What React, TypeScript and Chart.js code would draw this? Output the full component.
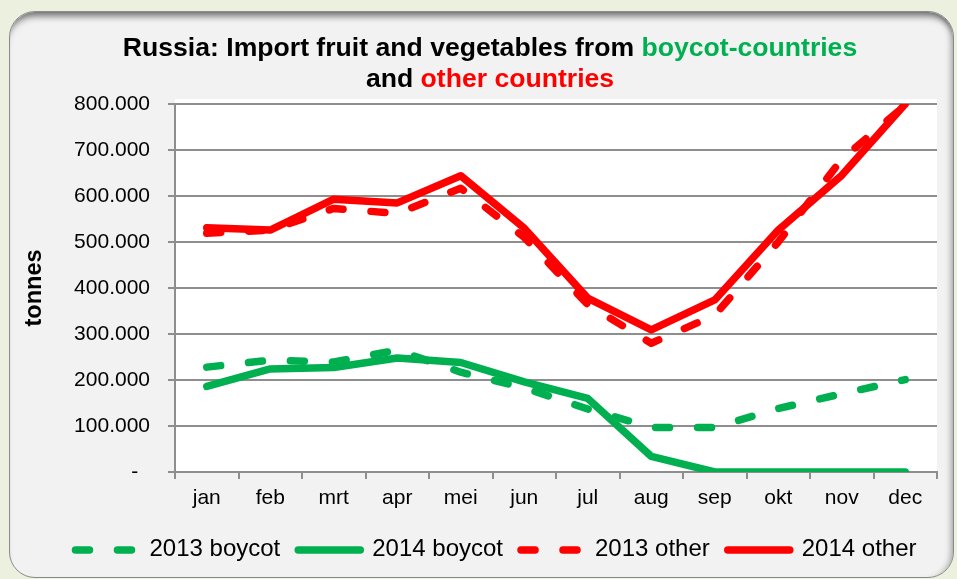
import React, { useEffect, useRef } from 'react';
import { Chart, registerables } from 'chart.js';

Chart.register(...registerables);

// ---- data ----
const months = ['jan', 'feb', 'mrt', 'apr', 'mei', 'jun', 'jul', 'aug', 'sep', 'okt', 'nov', 'dec'];
const boycot2013 = [228000, 243000, 239000, 265000, 217000, 183000, 137000, 97000, 97000, 138000, 170000, 201000];
const boycot2014 = [186000, 224000, 227000, 248000, 238000, 196000, 160000, 34000, 0, 0, 0, 0];
const other2013 = [519000, 526000, 573000, 562000, 617000, 510000, 364000, 280000, 341000, 500000, 680000, 797000];
const other2014 = [531000, 526000, 593000, 585000, 644000, 530000, 378000, 309000, 374000, 526000, 645000, 800000];
const seriesLabels = ['2013 boycot', '2014 boycot', '2013 other', '2014 other'];
const yMin = 0;
const yMax = 800000;
const yStep = 100000;
const yAxisTitle = 'tonnes';
const titleLine1 = ['Russia: Import fruit and vegetables from ', 'boycot-countries'];
const titleLine2 = ['and ', 'other countries'];

// ---- styles ----
const GREEN = '#00B050';
const RED = '#FF0000';
const GRAY = '#8E8E8E';
const FONT = '"Liberation Sans", Arial, sans-serif';
const DASH = [14, 28];
const LINE_W = 7.5;

function fmt(v: number): string {
  if (v === 0) return '-  ';
  return String(v).replace(/\B(?=(\d{3})+(?!\d))/g, '.');
}

const plotBgPlugin = {
  id: 'plotBg',
  beforeDraw(chart: any) {
    const { ctx, chartArea: a } = chart;
    ctx.save();
    ctx.fillStyle = '#FFFFFF';
    ctx.fillRect(a.left, a.top - 5, a.right - a.left, a.bottom - a.top + 5);
    ctx.restore();
  },
};

const titlePlugin = {
  id: 'multiTitle',
  afterDraw(chart: any) {
    const { ctx } = chart;
    const cx = 490;
    const lines = [
      { parts: [{ t: titleLine1[0], c: '#000000' }, { t: titleLine1[1], c: GREEN }], y: 56 },
      { parts: [{ t: titleLine2[0], c: '#000000' }, { t: titleLine2[1], c: RED }], y: 87 },
    ];
    ctx.save();
    ctx.font = `bold 26.6px ${FONT}`;
    ctx.textBaseline = 'alphabetic';
    ctx.textAlign = 'left';
    for (const line of lines) {
      const total = line.parts.reduce((s, p) => s + ctx.measureText(p.t).width, 0);
      let x = cx - total / 2;
      for (const p of line.parts) {
        ctx.fillStyle = p.c;
        ctx.fillText(p.t, x, line.y);
        x += ctx.measureText(p.t).width;
      }
    }
    ctx.restore();
  },
};

const legendPlugin = {
  id: 'lineLegend',
  afterDraw(chart: any) {
    const { ctx } = chart;
    const datasets = chart.data.datasets;
    const sampleW = 62;
    const gap = 12;
    const pad = 18;
    const cx = 496;
    const y = 550;
    ctx.save();
    ctx.font = `24px ${FONT}`;
    const widths = datasets.map((d: any) => sampleW + gap + ctx.measureText(d.label).width);
    const total = widths.reduce((s: number, w: number) => s + w, 0) + pad * (datasets.length - 1);
    let x = cx - total / 2;
    datasets.forEach((d: any, i: number) => {
      ctx.save();
      ctx.strokeStyle = d.borderColor;
      ctx.lineWidth = LINE_W;
      ctx.lineCap = 'round';
      ctx.setLineDash(d.borderDash || []);
      ctx.beginPath();
      ctx.moveTo(x, y);
      ctx.lineTo(x + sampleW, y);
      ctx.stroke();
      ctx.restore();
      ctx.fillStyle = '#000000';
      ctx.textBaseline = 'middle';
      ctx.textAlign = 'left';
      ctx.fillText(d.label, x + sampleW + gap, y - 1);
      x += widths[i] + pad;
    });
    ctx.restore();
  },
};

export default function App() {
  const ref = useRef<HTMLCanvasElement>(null);

  useEffect(() => {
    if (!ref.current) return;
    Chart.defaults.font.family = FONT;
    const mk = (label: string, data: number[], color: string, dashed: boolean, order: number) => ({
      label,
      data,
      borderColor: color,
      backgroundColor: color,
      borderWidth: LINE_W,
      borderDash: dashed ? DASH : [],
      borderCapStyle: 'round',
      borderJoinStyle: 'round',
      pointRadius: 0,
      pointHoverRadius: 0,
      tension: 0,
      fill: false,
      order,
    });
    const chart = new Chart(ref.current, {
      type: 'line',
      data: {
        labels: months,
        datasets: [
          mk(seriesLabels[0], boycot2013, GREEN, true, 3),
          mk(seriesLabels[1], boycot2014, GREEN, false, 2),
          mk(seriesLabels[2], other2013, RED, true, 1),
          mk(seriesLabels[3], other2014, RED, false, 0),
        ] as any,
      },
      options: {
        animation: false,
        responsive: false,
        events: [],
        layout: { padding: { left: 10, right: 20, top: 104, bottom: 62 } },
        plugins: {
          legend: { display: false },
          title: { display: false },
          tooltip: { enabled: false },
        },
        scales: {
          x: {
            type: 'category',
            offset: true,
            grid: {
              display: true,
              offset: true,
              drawOnChartArea: false,
              drawTicks: true,
              tickLength: 7,
              color: GRAY,
              lineWidth: 2,
            },
            border: { display: true, color: GRAY, width: 2 },
            ticks: { color: '#000000', font: { size: 21 }, padding: 7, maxRotation: 0, autoSkip: false },
            afterFit: (s: any) => {
              s.height = 45;
            },
          },
          y: {
            min: yMin,
            max: yMax,
            grid: { color: GRAY, lineWidth: 2, tickLength: 7, drawTicks: true },
            border: { display: true, color: GRAY, width: 2 },
            ticks: {
              stepSize: yStep,
              color: '#000000',
              font: { size: 21 },
              padding: 18,
              callback: (v: any) => fmt(Number(v)),
            },
            title: {
              display: true,
              text: yAxisTitle,
              color: '#000000',
              font: { size: 23.5, weight: 'bold' },
              padding: { top: 10, bottom: 0 },
            },
            afterFit: (s: any) => {
              s.width = 165;
            },
          },
        },
      } as any,
      plugins: [plotBgPlugin, titlePlugin, legendPlugin],
    });
    return () => chart.destroy();
  }, []);

  return (
    <div
      style={{
        position: 'fixed',
        left: 0,
        top: 0,
        width: 957,
        height: 579,
        background: '#EBF1DE',
        overflow: 'hidden',
      }}
    >
      <div
        style={{
          position: 'absolute',
          left: 9,
          top: 11,
          width: 945,
          height: 567,
          boxSizing: 'border-box',
          border: '1.5px solid #8A8A8A',
          borderRadius: 26,
          background: '#F2F2F2',
          boxShadow:
            'inset 0 9px 7px -5px rgba(0,0,0,0.55), inset -7px 0 6px -5px rgba(0,0,0,0.3)',
        }}
      />
      <canvas
        ref={ref}
        width={957}
        height={579}
        style={{ position: 'absolute', left: 0, top: 0, width: 957, height: 579 }}
      />
    </div>
  );
}
